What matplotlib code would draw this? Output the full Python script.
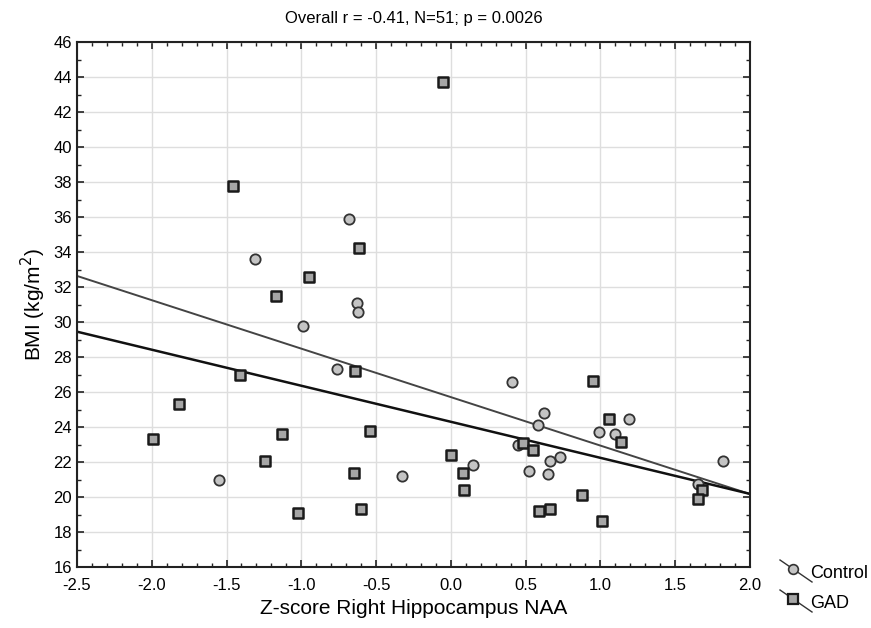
import numpy as np
import matplotlib
matplotlib.use("Agg")
import matplotlib.pyplot as plt
from matplotlib.lines import Line2D
from matplotlib.ticker import MultipleLocator, FormatStrFormatter

plt.rcParams['font.family'] = ['Liberation Sans', 'DejaVu Sans']
plt.rcParams['axes.unicode_minus'] = False

# Control group (circles)
ctrl_x = [-1.31, -0.68, -0.63, -0.62, -0.99, -0.76, -1.55, 0.41, 0.45, -0.33, 0.15,
          0.62, 0.58, 1.19, 0.99, 1.10, 0.66, 0.73, 0.52, 0.65, 1.82, 1.65]
ctrl_y = [33.6, 35.9, 31.1, 30.55, 29.8, 27.3, 20.95, 26.55, 22.95, 21.2, 21.85,
          24.8, 24.1, 24.45, 23.7, 23.6, 22.05, 22.3, 21.5, 21.3, 22.05, 20.75]

# GAD group (squares)
gad_x = [-1.46, -1.17, -0.05, -0.615, -0.95, -0.64, -1.41, -1.82, -1.99, -1.13, -1.24,
         -1.02, -0.54, 0.0, 0.48, -0.65, 0.08, 0.09, -0.60, 0.95, 1.06, 1.14, 0.55,
         0.88, 1.68, 1.65, 0.59, 0.66, 1.01]
gad_y = [37.8, 31.5, 43.7, 34.25, 32.55, 27.2, 26.95, 25.3, 23.3, 23.6, 22.05,
         19.1, 23.8, 22.4, 23.1, 21.4, 21.4, 20.4, 19.3, 26.65, 24.45, 23.15, 22.7,
         20.1, 20.4, 19.9, 19.2, 19.3, 18.65]

# fitted lines (slope, intercept)
fit_upper = (-2.77, 25.71)
fit_lower = (-2.06, 24.30)

fig = plt.figure(figsize=(8.71, 6.28), dpi=100)
ax = fig.add_axes([0.0884, 0.0971, 0.7726, 0.8359])

xs = np.array([-2.5, 2.0])
ax.plot(xs, fit_upper[0] * xs + fit_upper[1], color='#444444', lw=1.4, zorder=2)
ax.plot(xs, fit_lower[0] * xs + fit_lower[1], color='#111111', lw=1.8, zorder=2)

ax.scatter(ctrl_x, ctrl_y, s=55, marker='o', facecolor='#c4c4c4',
           edgecolor='#333333', linewidths=1.3, zorder=3)
ax.scatter(gad_x, gad_y, s=55, marker='s', facecolor='#a6a6a6',
           edgecolor='#1a1a1a', linewidths=1.8, zorder=3)

ax.set_xlim(-2.5, 2.0)
ax.set_ylim(16, 46)
ax.xaxis.set_major_locator(MultipleLocator(0.5))
ax.xaxis.set_minor_locator(MultipleLocator(0.1))
ax.yaxis.set_major_locator(MultipleLocator(2))
ax.yaxis.set_minor_locator(MultipleLocator(1))
ax.xaxis.set_major_formatter(FormatStrFormatter('%.1f'))
ax.tick_params(which='both', direction='in', top=True, right=True,
               color='#222222', labelsize=12)
ax.tick_params(which='major', length=5, width=1.2)
ax.tick_params(which='minor', length=3, width=1.0)
ax.tick_params(axis='x', which='major', pad=8)
ax.grid(True, which='major', color='#dedede', lw=1.0)
ax.set_axisbelow(True)
for sp in ax.spines.values():
    sp.set_linewidth(1.5)
    sp.set_color('#222222')

ax.set_title('Overall r = -0.41, N=51; p = 0.0026', fontsize=12, pad=14)
ax.set_xlabel('Z-score Right Hippocampus NAA', fontsize=15, labelpad=4)
ax.set_ylabel('BMI (kg/m$^2$)', fontsize=15, labelpad=4)

# legend drawn outside at lower right
def leg_entry(y0, marker, fc, ec, lw, label):
    x0, x1 = 780 / 871, 812 / 871
    y_top, y_bot = 1 - y0 / 628, 1 - (y0 + 22) / 628
    fig.add_artist(Line2D([x0, x1], [y_top, y_bot], transform=fig.transFigure,
                          color='#333333', lw=1.0))
    fig.add_artist(Line2D([(x0 + x1) / 2 - 0.003], [(y_top + y_bot) / 2 + 0.003],
                          transform=fig.transFigure, marker=marker, ms=7,
                          markerfacecolor=fc, markeredgecolor=ec, markeredgewidth=lw))
    fig.text(810 / 871, 1 - (y0 + 13) / 628, label, fontsize=13, va='center', ha='left')

leg_entry(560, 'o', '#c4c4c4', '#333333', 1.2, 'Control')
leg_entry(590, 's', '#a6a6a6', '#1a1a1a', 1.6, 'GAD')

fig.savefig('out.png', dpi=100)
